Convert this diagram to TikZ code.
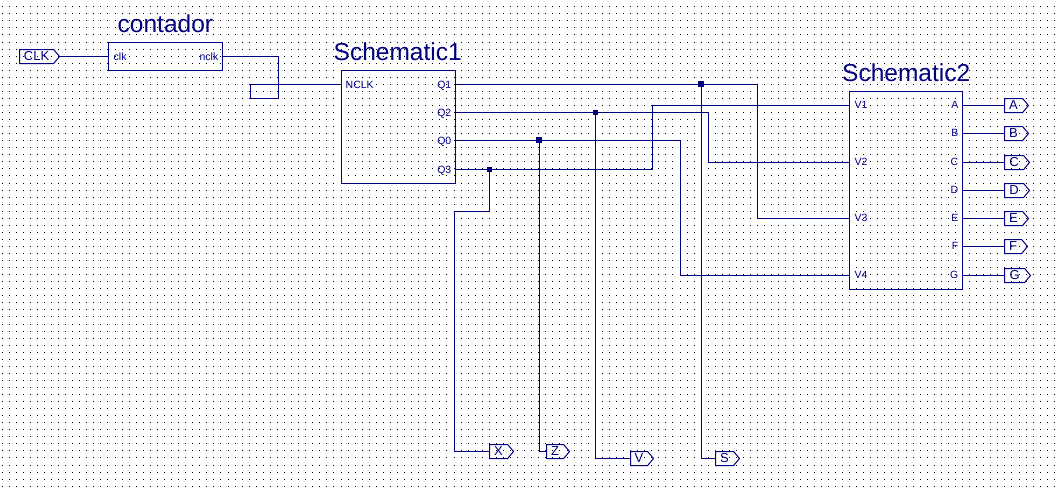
\documentclass[tikz,border=0pt]{standalone}
\usepackage{fontspec}
\setmainfont{Liberation Sans}
\usetikzlibrary{shapes.symbols}
\definecolor{wirecol}{RGB}{0,0,128}
\tikzset{
	blockbox/.style={draw=wirecol, line width=1pt, inner sep=0pt, outer sep=0pt},
	title/.style={text=wirecol, inner sep=0pt, font=\fontsize{24.5}{24.5}\selectfont},
	pinlabel/.style={text=wirecol, inner sep=0pt, font=\fontsize{10.5}{10.5}\selectfont},
	port/.style={draw=wirecol, line width=1pt, shape=signal, signal to=east, signal pointer angle=100, inner sep=0pt, outer sep=0pt, minimum height=14pt, anchor=west, text=wirecol, font=\fontsize{13}{13}\selectfont},
	wire/.style={draw=wirecol, line width=1pt},
	junction/.style={fill=wirecol, inner sep=0pt, outer sep=0pt, minimum size=#1},
	griddots/.style={black, line width=1pt, dash pattern=on 1pt off 6pt on 1pt off 6pt on 1pt off 6pt on 1pt off 6pt on 1pt off 6pt on 1pt off 6pt on 1pt off 6pt on 1pt off 6pt on 1pt off 6pt on 1pt off 6pt on 1pt off 6pt on 1pt off 6pt on 1pt off 6pt on 1pt off 6pt on 1pt off 6pt on 1pt off 7pt},
}
\begin{document}
\begin{tikzpicture}[x=1pt, y=-1pt, line join=miter]
	\useasboundingbox (-.5,-.5) rectangle (1059.5,489.5);
	\fill[white] (-.5,-.5) rectangle (1059.5,489.5);
	% dot grid
	\foreach \r [evaluate=\r as \yr using {round(6.28+7.05*\r)}] in {0,...,68}
		\draw[griddots] (1.5,\yr) -- (1059.5,\yr);

	% blocks
	\node[blockbox, minimum width=114pt, minimum height=28pt] (contador) at (165,56) {};
	\node[blockbox, minimum width=114pt, minimum height=113pt] (sch1) at (398,126.5) {};
	\node[blockbox, minimum width=113pt, minimum height=198pt] (sch2) at (905.5,190) {};
	\node[title, anchor=base west] (contadorname) at (117,32) {contador};
	\node[title, anchor=base west] (sch1name) at (333,60) {Schematic1};
	\node[title, anchor=base west] (sch2name) at (841.5,81) {Schematic2};

	% pins
	\node[pinlabel, anchor=base west] (clkpin) at (113,60) {clk};
	\node[pinlabel, anchor=base east] (nclkpin) at (218,60) {nclk};
	\node[pinlabel, anchor=base west] (ncpin) at (345,88) {NCLK};
	\foreach \p/\y in {Q1/84,Q2/112,Q0/140,Q3/169} {
		\node[pinlabel, anchor=base east] (l\p) at (451,\y+4) {\p};
		\coordinate (\p) at (sch1.east |- 0,\y);
	}
	\foreach \p/\y in {V1/105,V2/162,V3/218,V4/275} {
		\node[pinlabel, anchor=base west] (l\p) at (854,\y+3) {\p};
		\coordinate (\p) at (sch2.west |- 0,\y);
	}

	% ports
	\node[port, minimum width=40pt] (CLK) at (19,56) {CLK};
	\node[port, minimum width=24pt] (X) at (489,451) {X};
	\node[port, minimum width=23pt] (Z) at (546,451) {Z};
	\node[port, minimum width=23pt] (V) at (630,458) {V};
	\node[port, minimum width=24pt] (S) at (715,458) {S};

	% outputs
	\foreach \p/\y/\w in {A/105/24,B/133/24,C/162/25,D/190/25,E/218/24,F/246/23,G/275/26} {
		\node[pinlabel, anchor=base east] (l\p) at (958,\y+3) {\p};
		\node[port, minimum width=\w pt] (\p) at (1004,\y) {\p};
		\draw[wire] (sch2.east |- \p.west) -- (\p.west);
	}

	% junctions
	\coordinate (j1) at (701,84);
	\coordinate (j2) at (595,112);
	\coordinate (j0) at (539,140);
	\coordinate (j3) at (489,169);
	\node[junction=6pt, xshift=-.5pt, yshift=.5pt] (d1) at (j1) {};
	\node[junction=5pt] (d2) at (j2) {};
	\node[junction=6pt, xshift=-.5pt, yshift=.5pt] (d0) at (j0) {};
	\node[junction=5pt] (d3) at (j3) {};

	% wires
	\draw[wire] (CLK.east) -- (contador.west |- CLK.east);
	\draw[wire] (contador.east) -- (278,56) -- (278,98) -- (250,98) -- (250,84) -- (sch1.west |- 0,84);
	\draw[wire] (Q1) -- (j1) -- (757,84) -- (757,218) -- (V3);
	\draw[wire] (Q2) -- (j2) -- (708,112) -- (708,162) -- (V2);
	\draw[wire] (Q0) -- (j0) -- (680,140) -- (680,275) -- (V4);
	\draw[wire] (Q3) -- (j3) -- (652,169) -- (652,105) -- (V1);
	\draw[wire] (j1) |- (S.west);
	\draw[wire] (j2) |- (V.west);
	\draw[wire] (j0) |- (Z.west);
	\draw[wire] (j3) -- (489,211) -- (454,211) |- (X.west);
\end{tikzpicture}
\end{document}
